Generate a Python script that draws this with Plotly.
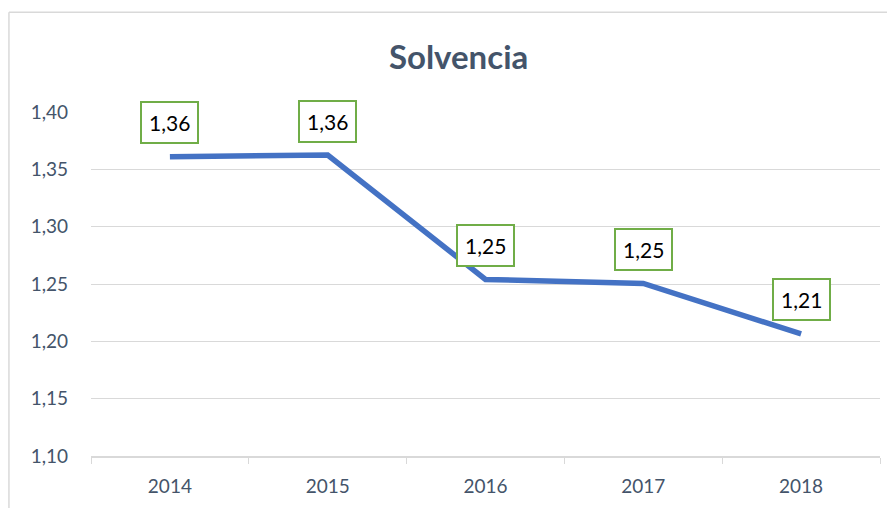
import plotly.graph_objects as go

years = ["2014", "2015", "2016", "2017", "2018"]
solvencia = [1.361, 1.3625, 1.254, 1.2505, 1.2064]
y_ticks = [1.10, 1.15, 1.20, 1.25, 1.30, 1.35, 1.40]

axis_grey = "#D9D9D9"
text_slate = "#44546A"
font_family = "Lato, Noto Sans, sans-serif"

fig = go.Figure()

fig.add_trace(
    go.Scatter(
        x=years,
        y=solvencia,
        mode="lines",
        line=dict(color="#4472C4", width=5.5),
        hoverinfo="x+y",
    )
)

# boxed data labels above each point (x by category index)
for i, v in enumerate(solvencia):
    fig.add_annotation(
        x=i,
        y=v,
        xref="x",
        yref="y",
        text=f"{v:.2f}".replace(".", ","),
        showarrow=False,
        yshift=34,
        font=dict(family=font_family, size=21, color="black"),
        bgcolor="white",
        bordercolor="#70AD47",
        borderwidth=2,
        borderpad=7,
    )

# chart area frame (left and top edges visible)
fig.add_shape(
    type="line", xref="paper", yref="paper",
    x0=-0.104, x1=-0.104, y0=-0.5, y1=1.29,
    line=dict(color=axis_grey, width=1.5), layer="below",
)
fig.add_shape(
    type="line", xref="paper", yref="paper",
    x0=-0.104, x1=1.03, y0=1.29, y1=1.29,
    line=dict(color=axis_grey, width=1.5), layer="below",
)

fig.update_layout(
    width=887,
    height=500,
    margin=dict(l=83, r=15, t=104, b=52),
    paper_bgcolor="white",
    plot_bgcolor="white",
    separators=",.",
    showlegend=False,
    font=dict(family=font_family, size=19, color=text_slate),
    title=dict(
        text="<b>Solvencia</b>",
        x=0.508,
        xanchor="center",
        xref="container",
        y=0.902,
        yref="container",
        yanchor="middle",
        font=dict(size=33, color=text_slate),
    ),
    xaxis=dict(
        type="category",
        range=[-0.5, 4.5],
        showgrid=False,
        showline=True,
        linecolor=axis_grey,
        linewidth=1.5,
        ticks="outside",
        tickson="boundaries",
        ticklen=6,
        tickcolor=axis_grey,
        ticklabelstandoff=12,
        tickfont=dict(size=19, color=text_slate),
    ),
    yaxis=dict(
        range=[1.10, 1.40],
        tickvals=y_ticks,
        tickformat=".2f",
        showgrid=True,
        gridcolor=axis_grey,
        gridwidth=1,
        zeroline=False,
        showline=False,
        ticks="",
        ticklabelstandoff=22,
        tickfont=dict(size=19, color=text_slate),
    ),
)

fig.write_html("out.html")
